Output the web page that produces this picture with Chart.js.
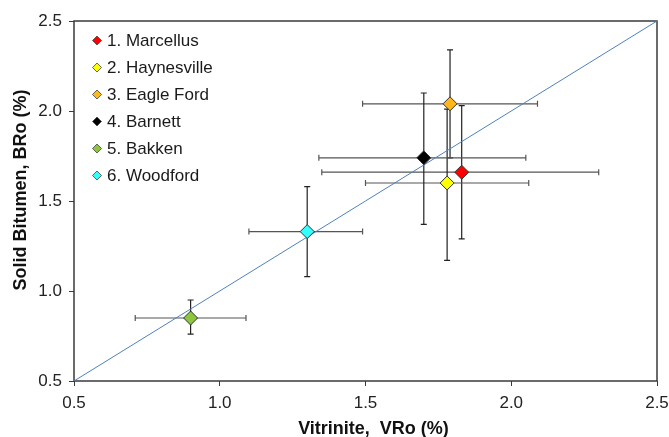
<!DOCTYPE html>
<html>
<head>
<meta charset="utf-8">
<script src="https://cdn.jsdelivr.net/npm/chart.js@4.4.1/dist/chart.umd.min.js"></script>
<style>
  html, body { margin: 0; padding: 0; background: #fff; }
  #wrap { width: 669px; height: 437px; position: relative; }
</style>
</head>
<body>
<div id="wrap"><canvas id="c"></canvas></div>
<script>
const names = ['1. Marcellus', '2. Haynesville', '3. Eagle Ford', '4. Barnett', '5. Bakken', '6. Woodford'];
const vr = [1.83, 1.78, 1.79, 1.70, 0.90, 1.30];
const bro = [1.66, 1.60, 2.04, 1.74, 0.85, 1.33];
const vrLow = [1.35, 1.50, 1.49, 1.34, 0.71, 1.10];
const vrHigh = [2.30, 2.06, 2.09, 2.05, 1.09, 1.49];
const broLow = [1.29, 1.17, 1.74, 1.37, 0.76, 1.08];
const broHigh = [2.03, 2.01, 2.34, 2.10, 0.95, 1.58];
const colors = ['#ff0000', '#ffff00', '#ffb81c', '#000000', '#8cc63f', '#33ffff'];
const oneToOne = [0.5, 2.5];
const xTitle = 'Vitrinite,  VRo (%)';
const yTitle = 'Solid Bitumen, BRo (%)';

const FONT = "'Liberation Sans', Arial, sans-serif";

const datasets = [{
  type: 'line',
  label: '1:1',
  data: oneToOne.map(v => ({x: v, y: v})),
  borderColor: '#4f81bd',
  borderWidth: 1,
  pointRadius: 0,
  fill: false,
  order: 10
}];
names.forEach((n, i) => {
  datasets.push({
    type: 'scatter',
    label: n,
    data: [{x: vr[i], y: bro[i]}],
    pointStyle: 'rectRot',
    pointRadius: 7,
    pointBackgroundColor: colors[i],
    pointBorderColor: '#333333',
    pointBorderWidth: 1,
    order: 1
  });
});

const errorBars = {
  id: 'errorBars',
  beforeDatasetsDraw(chart) {
    const {ctx, chartArea, scales: {x, y}} = chart;
    ctx.save();
    ctx.strokeStyle = '#3a3a3a';
    ctx.lineWidth = 1.5;
    ctx.strokeRect(chartArea.left, chartArea.top, chartArea.right - chartArea.left, chartArea.bottom - chartArea.top);
    ctx.lineWidth = 1.2;
    const cap = 3;
    for (let i = 0; i < names.length; i++) {
      const px = x.getPixelForValue(vr[i]);
      const py = y.getPixelForValue(bro[i]);
      const x1 = x.getPixelForValue(vrLow[i]);
      const x2 = x.getPixelForValue(vrHigh[i]);
      const y1 = y.getPixelForValue(broLow[i]);
      const y2 = y.getPixelForValue(broHigh[i]);
      ctx.strokeStyle = '#555555';
      ctx.beginPath();
      ctx.moveTo(x1, py); ctx.lineTo(x2, py);
      ctx.moveTo(x1, py - cap); ctx.lineTo(x1, py + cap);
      ctx.moveTo(x2, py - cap); ctx.lineTo(x2, py + cap);
      ctx.stroke();
      ctx.strokeStyle = '#222222';
      ctx.beginPath();
      ctx.moveTo(px, y1); ctx.lineTo(px, y2);
      ctx.moveTo(px - cap, y1); ctx.lineTo(px + cap, y1);
      ctx.moveTo(px - cap, y2); ctx.lineTo(px + cap, y2);
      ctx.stroke();
    }
    ctx.restore();
  }
};

const customLegend = {
  id: 'customLegend',
  afterDraw(chart) {
    const {ctx, chartArea} = chart;
    ctx.save();
    const mx = chartArea.left + 23;
    const tx = chartArea.left + 33;
    const y0 = chartArea.top + 19.5;
    const step = 27;
    ctx.font = '17px ' + FONT;
    ctx.textBaseline = 'middle';
    ctx.textAlign = 'left';
    for (let i = 0; i < names.length; i++) {
      const cy = y0 + i * step;
      const r = 4.5;
      ctx.beginPath();
      ctx.moveTo(mx, cy - r);
      ctx.lineTo(mx + r, cy);
      ctx.lineTo(mx, cy + r);
      ctx.lineTo(mx - r, cy);
      ctx.closePath();
      ctx.fillStyle = colors[i];
      ctx.fill();
      ctx.strokeStyle = '#444444';
      ctx.lineWidth = 0.8;
      ctx.stroke();
      ctx.fillStyle = '#1a1a1a';
      ctx.fillText(names[i], tx, cy + 1);
    }
    ctx.fillStyle = '#111';
    ctx.font = 'bold 18px ' + FONT;
    ctx.textAlign = 'center';
    ctx.textBaseline = 'alphabetic';
    ctx.fillText(xTitle, (chartArea.left + chartArea.right) / 2 + 8, 434);
    ctx.translate(21, (chartArea.top + chartArea.bottom) / 2 - 11);
    ctx.rotate(-Math.PI / 2);
    ctx.textBaseline = 'middle';
    ctx.fillText(yTitle, 0, 0);
    ctx.restore();
  }
};

function noPad(s) { s.paddingLeft = 0; s.paddingRight = 0; s.paddingTop = 0; s.paddingBottom = 0; }

new Chart(document.getElementById('c'), {
  data: { datasets },
  options: {
    responsive: true,
    maintainAspectRatio: false,
    animation: false,
    layout: { padding: { top: 21, right: 12, left: 0, bottom: 0 } },
    plugins: {
      legend: { display: false },
      tooltip: { enabled: false }
    },
    scales: {
      x: {
        type: 'linear',
        min: 0.5, max: 2.5,
        afterFit(s) { s.height = 56; noPad(s); },
        ticks: {
          stepSize: 0.5,
          padding: 7,
          color: '#222',
          font: { family: FONT, size: 17 },
          callback: v => v.toFixed(1)
        },
        grid: { drawOnChartArea: false, drawTicks: true, tickLength: 5, tickColor: '#3a3a3a', tickWidth: 1 },
        border: { display: false },
        title: { display: false }
      },
      y: {
        type: 'linear',
        min: 0.5, max: 2.5,
        afterFit(s) { s.width = 74; noPad(s); },
        ticks: {
          stepSize: 0.5,
          padding: 7,
          color: '#222',
          font: { family: FONT, size: 17 },
          callback: v => v.toFixed(1)
        },
        grid: { drawOnChartArea: false, drawTicks: true, tickLength: 5, tickColor: '#3a3a3a', tickWidth: 1 },
        border: { display: false },
        title: { display: false }
      }
    }
  },
  plugins: [errorBars, customLegend]
});
</script>
</body>
</html>
